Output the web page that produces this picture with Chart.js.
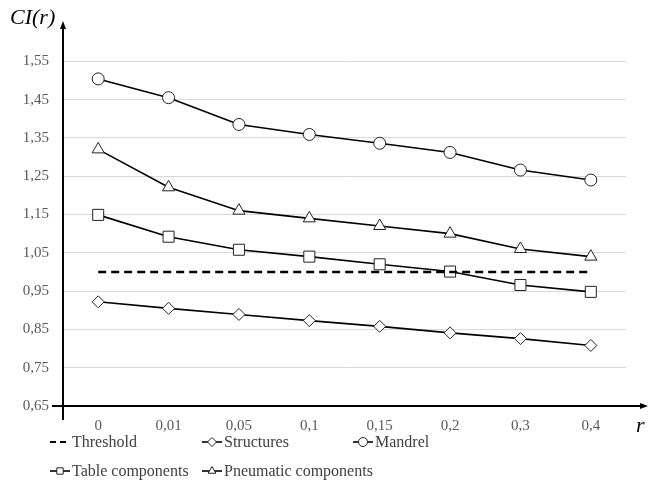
<!DOCTYPE html>
<html>
<head>
<meta charset="utf-8">
<script src="https://cdn.jsdelivr.net/npm/chart.js@4/dist/chart.umd.min.js"></script>
<style>
  html, body { margin: 0; padding: 0; background: #fff; }
  #wrap { width: 649px; height: 484px; position: relative; }
</style>
</head>
<body>
<div id="wrap"><canvas id="ciChart" width="649" height="484"></canvas></div>
<script>
// categories (values of r)
const rValues = ['0', '0,01', '0,05', '0,1', '0,15', '0,2', '0,3', '0,4'];

// series values
const threshold = [1.0, 1.0, 1.0, 1.0, 1.0, 1.0, 1.0, 1.0];
const structures = [0.922, 0.905, 0.889, 0.873, 0.858, 0.841, 0.826, 0.808];
const mandrel = [1.504, 1.455, 1.385, 1.359, 1.336, 1.312, 1.266, 1.240];
const tableComponents = [1.149, 1.092, 1.058, 1.040, 1.020, 1.001, 0.966, 0.948];
const pneumaticComponents = [1.320, 1.221, 1.160, 1.140, 1.120, 1.100, 1.060, 1.040];

const yMin = 0.65, yMax = 1.65, yStep = 0.1;

const serif = '"Liberation Serif", "Times New Roman", serif';

const legendItems = [
  { text: 'Threshold', style: 'dash', col: 0, row: 0 },
  { text: 'Structures', style: 'rectRot', col: 1, row: 0 },
  { text: 'Mandrel', style: 'circle', col: 2, row: 0 },
  { text: 'Table components', style: 'rect', col: 0, row: 1 },
  { text: 'Pneumatic components', style: 'triangle', col: 1, row: 1 }
];

function series(label, data, style, radius) {
  return {
    label: label,
    data: data,
    borderColor: '#000',
    borderWidth: 1.6,
    pointStyle: style,
    pointRadius: radius,
    pointBackgroundColor: '#fff',
    pointBorderColor: '#222',
    pointBorderWidth: 1,
    tension: 0
  };
}

const axesPlugin = {
  id: 'axesPlugin',
  afterDraw(chart) {
    const ctx = chart.ctx;
    const area = chart.chartArea;
    const x0 = area.left, y0 = area.bottom;
    ctx.save();
    ctx.strokeStyle = '#000';
    ctx.fillStyle = '#000';
    ctx.lineWidth = 2;
    // y axis
    ctx.beginPath();
    ctx.moveTo(x0, y0 + 14);
    ctx.lineTo(x0, area.top + 4);
    ctx.stroke();
    ctx.beginPath();
    ctx.moveTo(x0, area.top - 2);
    ctx.lineTo(x0 - 3, area.top + 6);
    ctx.lineTo(x0 + 3, area.top + 6);
    ctx.closePath();
    ctx.fill();
    // x axis
    ctx.beginPath();
    ctx.moveTo(x0 - 11, y0);
    ctx.lineTo(area.right + 16, y0);
    ctx.stroke();
    ctx.beginPath();
    ctx.moveTo(area.right + 22, y0);
    ctx.lineTo(area.right + 14, y0 - 3);
    ctx.lineTo(area.right + 14, y0 + 3);
    ctx.closePath();
    ctx.fill();

    // axis titles
    ctx.font = 'italic 22px ' + serif;
    ctx.textBaseline = 'alphabetic';
    ctx.textAlign = 'left';
    ctx.fillText('CI(r)', 10, 24);
    ctx.fillText('r', area.right + 10, y0 + 26);

    // legend
    ctx.font = '16px ' + serif;
    ctx.fillStyle = '#404040';
    ctx.textBaseline = 'middle';
    const colX = [50, 202, 353];
    const rowY = [442, 471];
    legendItems.forEach(item => {
      const lx = colX[item.col];
      const ly = rowY[item.row];
      ctx.strokeStyle = '#000';
      if (item.style === 'dash') {
        ctx.lineWidth = 2;
        ctx.setLineDash([6, 4]);
        ctx.beginPath();
        ctx.moveTo(lx, ly);
        ctx.lineTo(lx + 18, ly);
        ctx.stroke();
        ctx.setLineDash([]);
      } else {
        ctx.lineWidth = 1.6;
        ctx.beginPath();
        ctx.moveTo(lx, ly);
        ctx.lineTo(lx + 20, ly);
        ctx.stroke();
        ctx.fillStyle = '#fff';
        ctx.strokeStyle = '#222';
        ctx.lineWidth = 1;
        Chart.helpers.drawPoint(ctx, { pointStyle: item.style, radius: 4.5, borderWidth: 1 }, lx + 10, ly);
        ctx.fillStyle = '#404040';
      }
      ctx.fillText(item.text, lx + 22, ly + 1);
    });
    ctx.restore();
  }
};

new Chart(document.getElementById('ciChart'), {
  type: 'line',
  data: {
    labels: rValues,
    datasets: [
      {
        label: 'Threshold',
        data: threshold,
        borderColor: '#000',
        borderWidth: 2.5,
        borderDash: [8, 5],
        pointRadius: 0,
        tension: 0
      },
      series('Structures', structures, 'rectRot', 6),
      series('Mandrel', mandrel, 'circle', 6),
      series('Table components', tableComponents, 'rect', 7.8),
      series('Pneumatic components', pneumaticComponents, 'triangle', 7)
    ]
  },
  options: {
    responsive: false,
    animation: false,
    layout: { padding: { left: 0, top: 21, right: 23, bottom: 0 } },
    plugins: {
      legend: { display: false },
      title: { display: false },
      tooltip: { enabled: false }
    },
    scales: {
      x: {
        offset: true,
        grid: { display: false, drawTicks: false },
        border: { display: false },
        ticks: {
          padding: 11,
          color: '#595959',
          font: { family: serif, size: 15 }
        },
        afterFit(scale) { scale.height = 78; }
      },
      y: {
        min: yMin,
        max: yMax,
        grid: { color: '#d9d9d9', lineWidth: 1, drawTicks: false },
        border: { display: false },
        ticks: {
          stepSize: yStep,
          padding: 14,
          color: '#595959',
          font: { family: serif, size: 15 },
          callback: v => v.toFixed(2).replace('.', ',')
        },
        afterBuildTicks(scale) {
          scale.ticks = scale.ticks.filter(t => t.value < yMax - 0.001);
        },
        afterFit(scale) { scale.width = 63; }
      }
    }
  },
  plugins: [axesPlugin]
});
</script>
</body>
</html>
